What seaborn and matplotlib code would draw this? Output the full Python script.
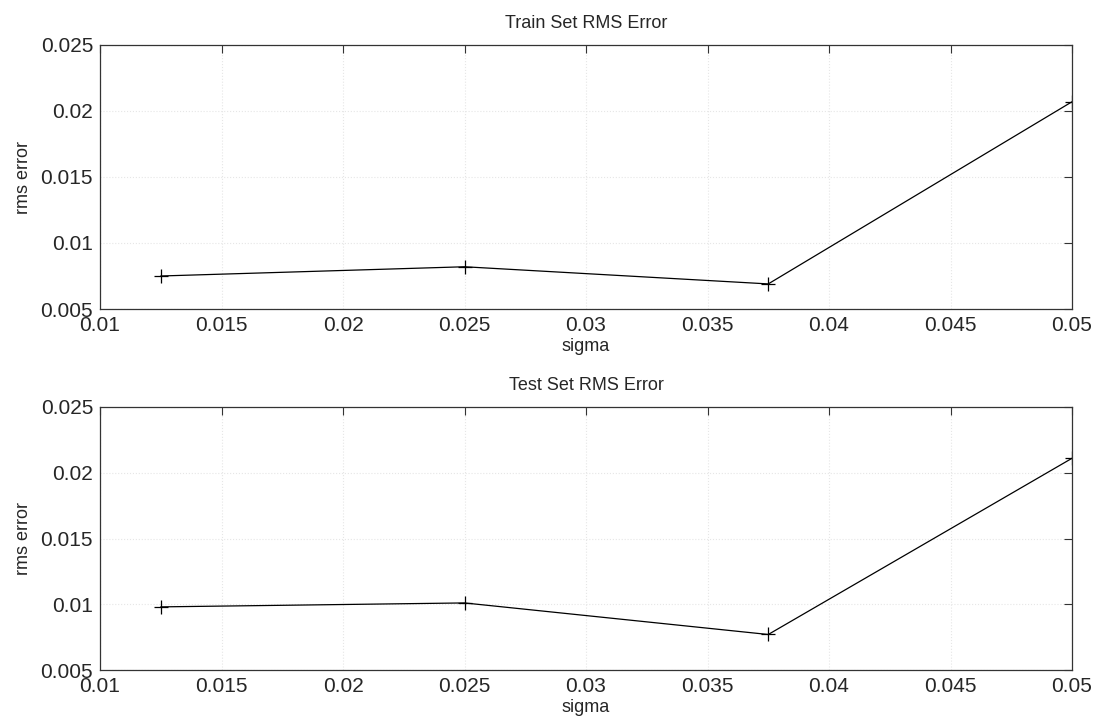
import matplotlib
matplotlib.use("Agg")
import matplotlib.pyplot as plt
import seaborn as sns
import pandas as pd

sigma = [0.0125, 0.025, 0.0375, 0.05]
train_rms = [0.0075, 0.0082, 0.0069, 0.0207]
test_rms = [0.0098, 0.0101, 0.0077, 0.0211]
x_ticks = [0.01, 0.015, 0.02, 0.025, 0.03, 0.035, 0.04, 0.045, 0.05]
x_ticklabels = ["0.01", "0.015", "0.02", "0.025", "0.03", "0.035", "0.04", "0.045", "0.05"]
y_ticks = [0.005, 0.01, 0.015, 0.02, 0.025]
y_ticklabels = ["0.005", "0.01", "0.015", "0.02", "0.025"]
titles = ["Train Set RMS Error", "Test Set RMS Error"]

sns.set_style("white")
plt.rcParams['font.family'] = ['Liberation Sans', 'DejaVu Sans']

fig = plt.figure(figsize=(10.96, 7.28), dpi=100)
ax1 = fig.add_axes([100/1096, 1-309/728, 972/1096, 264/728])
ax2 = fig.add_axes([100/1096, 1-670/728, 972/1096, 263/728])

for ax, vals, title in zip([ax1, ax2], [train_rms, test_rms], titles):
    df = pd.DataFrame({"sigma": sigma, "rms": vals})
    sns.lineplot(data=df, x="sigma", y="rms", ax=ax, color="black", linewidth=0.9,
                 marker="+", markersize=10, markeredgewidth=0.9, markeredgecolor="black")
    ax.set_xlim(0.01, 0.05)
    ax.set_ylim(0.005, 0.025)
    ax.set_xticks(x_ticks)
    ax.set_xticklabels(x_ticklabels)
    ax.set_yticks(y_ticks)
    ax.set_yticklabels(y_ticklabels)
    ax.grid(True, linestyle=":", color="#e6e6e6", linewidth=0.8)
    ax.tick_params(direction="in", top=True, right=True, length=6, labelsize=15, width=0.8,
                   color="#333333", pad=5)
    for s in ax.spines.values():
        s.set_color("#333333")
        s.set_linewidth(0.9)
    ax.set_title(title, fontsize=13, pad=12)
    ax.set_xlabel("sigma", fontsize=13, labelpad=2)
    ax.set_ylabel("rms error", fontsize=13, labelpad=6)

fig.savefig("out.png", dpi=100)
